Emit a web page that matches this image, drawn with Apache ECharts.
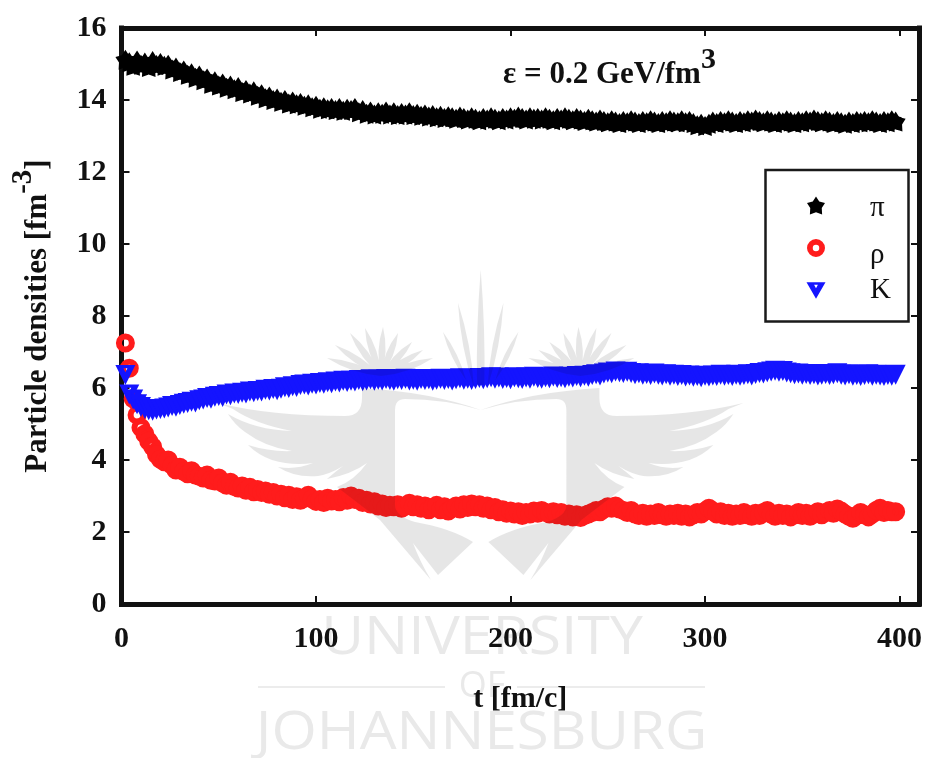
<!DOCTYPE html>
<html>
<head>
<meta charset="utf-8">
<style>html,body{margin:0;padding:0;background:#fff}#c{width:926px;height:758px}</style>
<script src="https://cdn.jsdelivr.net/npm/echarts@6/dist/echarts.min.js"></script>
</head>
<body>
<div id="c"></div>
<script>
const times = [2,4,6,8,10,12,14,16,18,20,
22,24,26,28,30,32,34,36,38,40,
42,44,46,48,50,52,54,56,58,60,
62,64,66,68,70,72,74,76,78,80,
82,84,86,88,90,92,94,96,98,100,
102,104,106,108,110,112,114,116,118,120,
122,124,126,128,130,132,134,136,138,140,
142,144,146,148,150,152,154,156,158,160,
162,164,166,168,170,172,174,176,178,180,
182,184,186,188,190,192,194,196,198,200,
202,204,206,208,210,212,214,216,218,220,
222,224,226,228,230,232,234,236,238,240,
242,244,246,248,250,252,254,256,258,260,
262,264,266,268,270,272,274,276,278,280,
282,284,286,288,290,292,294,296,298,300,
302,304,306,308,310,312,314,316,318,320,
322,324,326,328,330,332,334,336,338,340,
342,344,346,348,350,352,354,356,358,360,
362,364,366,368,370,372,374,376,378,380,
382,384,386,388,390,392,394,396,398];
const piValues = [15.12,15.05,14.95,15.1,14.98,15.04,14.92,15.08,14.97,15.03,
14.95,14.98,14.85,14.9,14.78,14.82,14.7,14.74,14.62,14.68,
14.55,14.6,14.45,14.52,14.4,14.46,14.34,14.4,14.3,14.36,
14.22,14.28,14.18,14.24,14.12,14.16,14.05,14.1,14.0,14.04,
13.95,14.0,13.9,13.96,13.88,13.92,13.84,13.88,13.8,13.84,
13.76,13.8,13.74,13.78,13.72,13.78,13.7,13.76,13.72,13.78,
13.66,13.72,13.62,13.68,13.6,13.66,13.62,13.68,13.6,13.66,
13.58,13.64,13.6,13.66,13.58,13.62,13.56,13.6,13.54,13.58,
13.52,13.56,13.5,13.55,13.52,13.48,13.54,13.5,13.46,13.52,
13.48,13.44,13.5,13.46,13.52,13.48,13.44,13.5,13.46,13.52,
13.48,13.54,13.5,13.46,13.52,13.48,13.5,13.46,13.52,13.48,
13.44,13.5,13.46,13.52,13.48,13.44,13.5,13.46,13.42,13.48,
13.44,13.4,13.46,13.42,13.38,13.44,13.4,13.36,13.42,13.38,
13.44,13.4,13.36,13.42,13.38,13.44,13.4,13.36,13.42,13.38,
13.44,13.4,13.38,13.44,13.38,13.42,13.36,13.3,13.34,13.28,
13.34,13.4,13.36,13.42,13.38,13.44,13.4,13.36,13.42,13.38,
13.44,13.4,13.46,13.42,13.38,13.44,13.4,13.36,13.42,13.38,
13.44,13.4,13.36,13.42,13.38,13.44,13.4,13.46,13.42,13.38,
13.44,13.4,13.36,13.42,13.38,13.34,13.4,13.36,13.42,13.38,
13.42,13.38,13.44,13.4,13.36,13.42,13.38,13.44,13.4];
const rhoValues = [7.25,6.55,5.7,5.25,4.9,4.72,4.52,4.37,4.15,4.02,
3.95,4.0,3.85,3.72,3.8,3.68,3.62,3.7,3.58,3.55,
3.5,3.58,3.44,3.42,3.5,3.36,3.3,3.38,3.26,3.22,
3.28,3.16,3.24,3.12,3.18,3.1,3.14,3.05,3.1,3.0,
3.05,2.95,3.02,2.9,2.98,2.88,2.94,3.02,2.92,2.85,
2.9,2.82,2.94,2.86,2.9,2.84,2.96,2.88,3.0,2.9,
2.94,2.82,2.88,2.78,2.84,2.72,2.78,2.68,2.74,2.7,
2.76,2.66,2.72,2.8,2.7,2.76,2.66,2.72,2.62,2.68,
2.74,2.62,2.7,2.58,2.66,2.72,2.64,2.76,2.68,2.78,
2.7,2.76,2.66,2.72,2.62,2.68,2.56,2.62,2.52,2.58,
2.5,2.56,2.46,2.54,2.5,2.58,2.52,2.6,2.54,2.5,
2.56,2.48,2.54,2.44,2.5,2.42,2.48,2.4,2.46,2.5,
2.54,2.6,2.56,2.64,2.7,2.66,2.72,2.64,2.6,2.54,
2.6,2.5,2.46,2.52,2.44,2.5,2.46,2.54,2.48,2.44,
2.5,2.46,2.52,2.44,2.5,2.42,2.48,2.54,2.5,2.58,
2.66,2.58,2.5,2.56,2.46,2.52,2.44,2.5,2.46,2.54,
2.48,2.44,2.52,2.46,2.54,2.6,2.5,2.44,2.52,2.46,
2.5,2.42,2.48,2.54,2.46,2.52,2.44,2.5,2.56,2.48,
2.54,2.6,2.52,2.64,2.58,2.5,2.44,2.38,2.46,2.54,
2.48,2.42,2.5,2.6,2.66,2.54,2.6,2.56,2.56];
const kValues = [6.36,5.82,5.68,5.55,5.47,5.42,5.38,5.37,5.4,5.42,
5.43,5.46,5.5,5.48,5.53,5.56,5.58,5.62,5.6,5.66,
5.68,5.72,5.7,5.76,5.78,5.75,5.82,5.8,5.85,5.83,
5.87,5.85,5.9,5.88,5.92,5.9,5.95,5.93,5.97,5.94,
5.98,6.02,6.0,6.05,6.03,6.08,6.1,6.07,6.12,6.1,
6.14,6.12,6.16,6.13,6.18,6.15,6.2,6.17,6.2,6.18,
6.22,6.19,6.21,6.24,6.2,6.23,6.21,6.25,6.22,6.2,
6.24,6.22,6.26,6.21,6.23,6.2,6.25,6.22,6.24,6.2,
6.23,6.26,6.22,6.25,6.21,6.24,6.27,6.23,6.26,6.22,
6.25,6.28,6.24,6.27,6.3,6.26,6.29,6.25,6.28,6.24,
6.3,6.27,6.25,6.29,6.26,6.31,6.28,6.26,6.3,6.27,
6.32,6.28,6.3,6.27,6.31,6.29,6.33,6.3,6.34,6.31,
6.36,6.38,6.35,6.4,6.43,6.41,6.46,6.44,6.42,6.45,
6.42,6.38,6.41,6.37,6.39,6.36,6.4,6.37,6.35,6.38,
6.34,6.37,6.33,6.36,6.32,6.35,6.31,6.33,6.3,6.34,
6.32,6.35,6.33,6.37,6.34,6.36,6.33,6.37,6.34,6.36,
6.38,6.35,6.39,6.42,6.4,6.44,6.46,6.48,6.45,6.47,
6.43,6.41,6.38,6.4,6.37,6.39,6.36,6.38,6.35,6.37,
6.39,6.36,6.38,6.41,6.37,6.35,6.38,6.34,6.36,6.33,
6.36,6.38,6.34,6.37,6.35,6.33,6.36,6.34,6.37];
const xTicks = {min:0, max:410, interval:100};
const yTicks = {min:0, max:16, interval:2};

const serif = '"Liberation Serif","Times New Roman",serif';
const ink = '#111';
const starPath = 'path://M50 0 L68 28 L100 36 L82 64 L84 100 L50 88 L16 100 L18 64 L0 36 L32 28 Z';
const ringPath = 'path://M0 50 A50 50 0 1 1 100 50 A50 50 0 1 1 0 50 Z M32 50 A18 18 0 1 0 68 50 A18 18 0 1 0 32 50 Z';
const triPath = 'path://M0 0 L100 0 L50 88 Z M40 14 L50 32 L60 14 Z';

function zip(vals){ return vals.map((v,i)=>[times[i],v]); }

/* watermark crest, left half; mirrored for the right half */
function leaf(bx,by,tx,ty,w){
  const mx=(bx+tx)/2,my=(by+ty)/2,dx=tx-bx,dy=ty-by,l=Math.hypot(dx,dy),px=-dy/l*w,py=dx/l*w;
  return `M${bx} ${by} Q${mx+px} ${my+py} ${tx} ${ty} Q${mx-px} ${my-py} ${bx} ${by} Z `;
}
let crest = 'M218 403 Q270 416 345 416 Q362 416 362 398 L362 388 Q430 392 480.7 410 Q445 399 405 399 Q395 399 395 410 L395 505 Q395 516 415 522 Q450 528 473 542 L438 575 L413 543 Q420 562 431 580 L380 520 L337 487 Q355 480 367 463 Q352 474 327 479 Q335 472 343 466 Q330 474 318 476 Q295 478 278 467 Q296 470 313 463 Q292 466 272 460 Q258 455 248 445 Q270 452 292 451 Q265 447 245 432 Q235 425 228 414 Q255 430 292 431 Q255 424 233 409 Z ';
[[327,358],[335,345],[350,333],[365,328],[383,327],[398,333],[412,342],[423,350],[433,358]].forEach(t=>{crest+=leaf(381,376,t[0],t[1],7);});
crest += leaf(474,388,458,303,5.5) + leaf(466,380,443,332,5);
crest += 'M480.7 270 Q476 330 477 385 L480.7 385 Z ';
const wm = '#e6e6e6';
echarts.graphic.registerShape('crestHalf', echarts.graphic.extendPath(crest));

const legendKeys = {'π':'p','ρ':'r','K':'k'};
const chart = echarts.init(document.getElementById('c'));
const axisCommon = {
  axisLine:{show:true,onZero:false,lineStyle:{color:ink,width:5,cap:'square'}},
  axisTick:{show:true,inside:true,length:8,lineStyle:{color:ink,width:2}},
  splitLine:{show:false}
};
chart.setOption({
  animation:false,
  backgroundColor:'#fff',
  grid:{left:121.5,right:7,top:28,bottom:154,containLabel:false},
  xAxis:[
    Object.assign({type:'value',position:'bottom',min:xTicks.min,max:xTicks.max,interval:xTicks.interval,
      name:'t [fm/c]',nameLocation:'middle',nameGap:80,
      nameTextStyle:{fontFamily:serif,fontWeight:'bold',fontSize:30,color:ink},
      axisLabel:{fontFamily:serif,fontWeight:'bold',fontSize:30,color:ink,margin:20,showMaxLabel:false}},axisCommon),
    Object.assign({type:'value',position:'top',min:xTicks.min,max:xTicks.max,interval:xTicks.interval,axisLabel:{show:false}},axisCommon)
  ],
  yAxis:[
    Object.assign({type:'value',position:'left',min:yTicks.min,max:yTicks.max,interval:yTicks.interval,
      name:'{a|Particle densities [fm}{s|-3}{a|]}',nameLocation:'middle',nameGap:68,nameRotate:90,
      nameTextStyle:{rich:{
        a:{fontFamily:serif,fontWeight:'bold',fontSize:31,color:ink,padding:[14,0,0,0]},
        s:{fontFamily:serif,fontWeight:'bold',fontSize:29,color:ink,padding:[0,0,14,0]}}},
      axisLabel:{fontFamily:serif,fontWeight:'bold',fontSize:30,color:ink,margin:15,padding:[4,0,0,0]}},axisCommon),
    Object.assign({type:'value',position:'right',min:yTicks.min,max:yTicks.max,interval:yTicks.interval,axisLabel:{show:false}},axisCommon)
  ],
  legend:{
    orient:'vertical',left:806.5,top:184,itemWidth:19,itemHeight:18,itemGap:-0.5,padding:0,
    selectedMode:false,
    data:[{name:'π',icon:starPath},{name:'ρ',icon:ringPath},{name:'K',icon:triPath}],
    formatter:function(name){ return '{'+legendKeys[name]+'|'+name+'}'; },
    textStyle:{fontFamily:serif,fontSize:29,color:ink,rich:{
      p:{fontFamily:serif,fontSize:29,color:ink,lineHeight:28,padding:[10,0,4,39.5]},
      r:{fontFamily:serif,fontSize:29,color:ink,lineHeight:28,padding:[14,0,0,39.5]},
      k:{fontFamily:serif,fontSize:29,color:ink,lineHeight:28,padding:[7,0,7,39.5]}}}
  },
  series:[
    {name:'π',type:'scatter',clip:false,data:zip(piValues),symbol:starPath,symbolSize:20,
      itemStyle:{color:'#000',opacity:1}},
    {name:'ρ',type:'scatter',clip:false,data:zip(rhoValues),symbol:ringPath,symbolSize:19,
      itemStyle:{color:'#ff1c1c',opacity:1}},
    {name:'K',type:'scatter',clip:false,data:zip(kValues),symbol:triPath,symbolSize:[20,20],
      itemStyle:{color:'#1414ff',opacity:1}}
  ],
  graphic:[
    {type:'rect',z:5,silent:true,shape:{x:765.5,y:170,width:143,height:151.5},style:{fill:'none',stroke:'#1a1a1a',lineWidth:2.5}},
    {type:'text',z:50,silent:true,x:503,y:45,style:{
      text:'{a|ε = 0.2 GeV/fm}{s|3}',
      rich:{a:{fontFamily:serif,fontWeight:'bold',fontSize:31,fill:ink,padding:[14,0,0,0]},
            s:{fontFamily:serif,fontWeight:'bold',fontSize:30,fill:ink,padding:[0,0,14,0]}}}},
    {type:'crestHalf',z:100,silent:true,shape:{},style:{fill:wm,blend:'multiply'}},
    {type:'group',z:100,silent:true,x:961.4,scaleX:-1,children:[
      {type:'crestHalf',z:100,silent:true,shape:{},style:{fill:wm,blend:'multiply'}}]},
    {type:'text',z:-1,silent:true,x:482,y:639,scaleX:1.11,style:{text:'UNIVERSITY',align:'center',verticalAlign:'middle',fontFamily:'"Open Sans"',fontWeight:400,fontSize:53,fill:'#e9e9e9'}},
    {type:'text',z:-1,silent:true,x:482,y:687,style:{text:'OF',align:'center',verticalAlign:'middle',fontFamily:'"Open Sans"',fontWeight:400,fontSize:36,fill:'#e9e9e9'}},
    {type:'text',z:-1,silent:true,x:481.5,y:734,scaleX:1.1,style:{text:'JOHANNESBURG',align:'center',verticalAlign:'middle',fontFamily:'"Open Sans"',fontWeight:400,fontSize:53,fill:'#e9e9e9'}},
    {type:'rect',z:-1,silent:true,shape:{x:258,y:686,width:187,height:2},style:{fill:'#ececec'}},
    {type:'rect',z:-1,silent:true,shape:{x:517,y:686,width:188,height:2},style:{fill:'#ececec'}}
  ]
});
</script>
</body>
</html>
